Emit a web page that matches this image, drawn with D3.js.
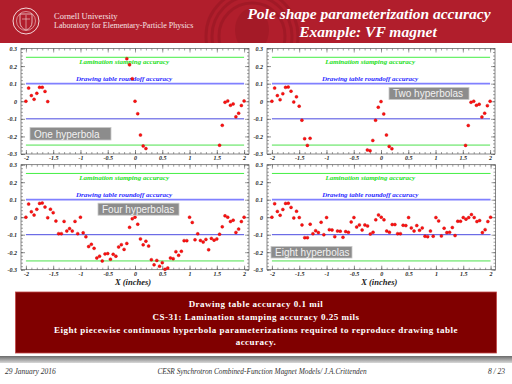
<!DOCTYPE html>
<html>
<head>
<meta charset="utf-8">
<script src="https://cdn.jsdelivr.net/npm/d3@7"></script>
<style>
body { margin: 0; background: #fff; }
svg { display: block; }
</style>
</head>
<body>
<svg id="slide" width="512" height="384"></svg>
<script>
// axis ticks
var xTicks = [-2, -1.5, -1, -0.5, 0, 0.5, 1, 1.5, 2];
var xTickLabels = ["-2", "-1.5", "-1", "-0.5", "0", "0.5", "1", "1.5", "2"];
var yTicks = [0.3, 0.2, 0.1, 0, -0.1, -0.2, -0.3];
var yTickLabels = ["0.3", "0.2", "0.1", "0", "-0.1", "-0.2", "-0.3"];

// accuracy limits (inches)
var laminationLimit = 0.25;
var drawingLimit = 0.1;

// residuals [x, dy]
var oneHyperbola = [
  [-2.0, 0.0], [-1.95, 0.075], [-1.9, 0.032], [-1.85, 0.011], [-1.8, 0.045],
  [-1.75, 0.079], [-1.7, 0.079], [-1.65, 0.056], [-1.6, -0.002],
  [-0.15, 0.242], [-0.1, 0.207], [-0.05, 0.128], [0.0, 0.0], [0.05, -0.071],
  [0.1, -0.192], [0.15, -0.254], [0.2, -0.269],
  [1.55, -0.25], [1.6, -0.137], [1.65, -0.006], [1.7, 0.002], [1.75, -0.023],
  [1.8, -0.015], [1.85, -0.088], [1.9, -0.068], [1.95, -0.024], [2.0, 0.002]
];

var twoHyperbolas = [
  [-2.0, 0.0], [-1.95, 0.075], [-1.9, 0.032], [-1.85, 0.009], [-1.8, 0.043],
  [-1.75, 0.079], [-1.7, 0.081], [-1.65, 0.057], [-1.6, -0.004], [-1.55, 0.025],
  [-1.5, -0.028], [-1.45, -0.108], [-1.4, -0.213], [-1.35, -0.251], [-1.3, -0.211],
  [-0.25, -0.277], [-0.2, -0.281], [-0.15, -0.223], [-0.1, -0.108], [-0.05, -0.034],
  [0.0, -0.002], [0.05, -0.072], [0.1, -0.192], [0.15, -0.257], [0.2, -0.27],
  [1.55, -0.251], [1.6, -0.138], [1.65, -0.006], [1.7, 0.0], [1.75, -0.023],
  [1.8, -0.017], [1.85, -0.089], [1.9, -0.068], [1.95, -0.025], [2.0, 0.0]
];

var fourHyperbolas = [
  [-2.0, 0.0], [-1.95, 0.075], [-1.9, 0.031], [-1.85, 0.012], [-1.8, 0.045],
  [-1.75, 0.079], [-1.7, 0.081], [-1.65, 0.058], [-1.6, -0.003], [-1.55, 0.046],
  [-1.5, 0.026], [-1.45, -0.022], [-1.4, -0.094], [-1.35, -0.094], [-1.3, -0.024],
  [-1.25, -0.079], [-1.2, -0.065], [-1.15, -0.079], [-1.1, -0.024], [-1.05, -0.094],
  [-1.0, 0.0], [-0.95, -0.089], [-0.9, -0.112], [-0.85, -0.168], [-0.8, -0.155],
  [-0.75, -0.178], [-0.7, -0.233], [-0.65, -0.223], [-0.6, -0.25], [-0.55, -0.21],
  [-0.5, -0.208], [-0.45, -0.24], [-0.4, -0.212], [-0.35, -0.223], [-0.3, -0.17],
  [-0.25, -0.157], [-0.2, -0.184], [-0.15, -0.15], [-0.1, -0.058], [-0.05, -0.009],
  [0.0, 0.0], [0.05, -0.04], [0.1, -0.124], [0.15, -0.158], [0.2, -0.137],
  [0.25, -0.165], [0.3, -0.243], [0.35, -0.272], [0.4, -0.247], [0.45, -0.28],
  [0.5, -0.26], [0.55, -0.298], [0.6, -0.29], [0.65, -0.233], [0.7, -0.237],
  [0.75, -0.197], [0.8, -0.218], [0.85, -0.195], [0.9, -0.134], [0.95, -0.134],
  [1.0, 0.0], [1.05, -0.03], [1.1, -0.129], [1.15, -0.095], [1.2, -0.133],
  [1.25, -0.142], [1.3, -0.127], [1.35, -0.186], [1.4, -0.121], [1.45, -0.131],
  [1.5, -0.124], [1.55, -0.097], [1.6, -0.055], [1.65, 0.008], [1.7, 0.0],
  [1.75, -0.025], [1.8, -0.017], [1.85, -0.087], [1.9, -0.068], [1.95, -0.025],
  [2.0, 0.0]
];

var eightHyperbolas = [
  [-2.0, 0.0], [-1.95, 0.077], [-1.9, 0.033], [-1.85, 0.011], [-1.8, 0.044],
  [-1.75, 0.079], [-1.7, 0.08], [-1.65, 0.056], [-1.6, -0.004], [-1.55, 0.034],
  [-1.5, -0.002], [-1.45, -0.044], [-1.4, -0.117], [-1.35, -0.117], [-1.3, -0.04],
  [-1.25, -0.094], [-1.2, -0.077], [-1.15, -0.088], [-1.1, -0.029], [-1.05, -0.1],
  [-1.0, -0.002], [-0.95, -0.071], [-0.9, -0.073], [-0.85, -0.111], [-0.8, -0.079],
  [-0.75, -0.08], [-0.7, -0.115], [-0.65, -0.082], [-0.6, -0.086], [-0.55, -0.027],
  [-0.5, -0.002], [-0.45, -0.056], [-0.4, -0.044], [-0.35, -0.073], [-0.3, -0.044],
  [-0.25, -0.05], [-0.2, -0.096], [-0.15, -0.086], [-0.1, -0.015], [-0.05, 0.013],
  [0.0, 0.0], [0.05, -0.015], [0.1, -0.079], [0.15, -0.086], [0.2, -0.042],
  [0.25, -0.042], [0.3, -0.094], [0.35, -0.094], [0.4, -0.046], [0.45, -0.048],
  [0.5, -0.002], [0.55, -0.061], [0.6, -0.079], [0.65, -0.048], [0.7, -0.075],
  [0.75, -0.061], [0.8, -0.109], [0.85, -0.111], [0.9, -0.079], [0.95, -0.109],
  [1.0, -0.002], [1.05, -0.021], [1.1, -0.107], [1.15, -0.063], [1.2, -0.088],
  [1.25, -0.086], [1.3, -0.059], [1.35, -0.105], [1.4, -0.023], [1.45, -0.023],
  [1.5, -0.002], [1.55, -0.011], [1.6, -0.002], [1.65, 0.015], [1.7, -0.002],
  [1.75, -0.025], [1.8, -0.019], [1.85, -0.088], [1.9, -0.071], [1.95, -0.025],
  [2.0, 0.0]
];

var panelNames = ["One hyperbola", "Two hyperbolas", "Four hyperbolas", "Eight hyperbolas"];
var panelData = [oneHyperbola, twoHyperbolas, fourHyperbolas, eightHyperbolas];

// where each panel sits on the slide
var panels = [
  {left: 21, right: 249, top: 48.5, bottom: 154, box: [30, 127.5, 81, 12.5], xTitle: false},
  {left: 267, right: 495, top: 48.5, bottom: 154, box: [389, 87.5, 80, 12], xTitle: false},
  {left: 21, right: 249, top: 164.7, bottom: 269.7, box: [98, 203.2, 81, 12], xTitle: true},
  {left: 267, right: 495.5, top: 164.7, bottom: 269.7, box: [271, 246.5, 81, 11.5], xTitle: true}
];

var svg = d3.select("#slide");
var serif = "'Liberation Serif', 'DejaVu Serif', serif";
var defs = svg.append("defs");

// ---- header ----
defs.append("clipPath").attr("id", "hdr").append("rect")
  .attr("x", 0).attr("y", 0).attr("width", 512).attr("height", 43);
svg.append("rect").attr("x", 0).attr("y", 0).attr("width", 512).attr("height", 43).attr("fill", "#b11e2c");
var seal = svg.append("g").attr("clip-path", "url(#hdr)").attr("opacity", 0.22);
[46, 40, 33].forEach(function(r) {
  seal.append("circle").attr("cx", 252).attr("cy", 36).attr("r", r)
    .attr("fill", "none").attr("stroke", "#6a0c15").attr("stroke-width", 3);
});
seal.append("ellipse").attr("cx", 252).attr("cy", 30).attr("rx", 17).attr("ry", 22).attr("fill", "#7a1019");

var logo = svg.append("g").attr("stroke", "#f3d6d8").attr("fill", "none");
logo.append("circle").attr("cx", 26).attr("cy", 21).attr("r", 13).attr("stroke-width", 1);
logo.append("circle").attr("cx", 26).attr("cy", 21).attr("r", 9.5).attr("stroke-width", 0.6);
logo.append("path").attr("d", "M20,14 L32,14 L32,22 Q32,28 26,30 Q20,28 20,22 Z").attr("stroke-width", 0.8);
logo.append("path").attr("d", "M22,19 L30,19 M26,15 L26,29").attr("stroke-width", 0.6);

svg.append("text").attr("x", 54).attr("y", 19).text("Cornell University")
  .attr("font-family", serif).attr("font-size", 8.5).attr("fill", "#f6e3e4");
svg.append("text").attr("x", 54).attr("y", 28).text("Laboratory for Elementary-Particle Physics")
  .attr("font-family", serif).attr("font-size", 8).attr("fill", "#f6e3e4");

svg.append("text").attr("x", 369).attr("y", 19).text("Pole shape parameterization accuracy")
  .attr("text-anchor", "middle").attr("font-family", serif).attr("font-size", 15.5)
  .attr("font-weight", "bold").attr("font-style", "italic").attr("fill", "#fff");
svg.append("text").attr("x", 368).attr("y", 37).text("Example: VF magnet")
  .attr("text-anchor", "middle").attr("font-family", serif).attr("font-size", 15.5)
  .attr("font-weight", "bold").attr("font-style", "italic").attr("fill", "#fff");

// ---- panels ----
function drawPanel(p, data, name) {
  var x = d3.scaleLinear().domain([-2.09, 2.09]).range([p.left, p.right]);
  var y = d3.scaleLinear().domain([-0.3, 0.3]).range([p.bottom, p.top]);
  var g = svg.append("g");

  var xMinor = d3.range(-20, 21).map(function(i) { return i / 10; });
  var yMinor = d3.range(-15, 16).map(function(i) { return i / 50; });

  function ticks(axis, transform, size, vals) {
    var a = g.append("g").attr("transform", transform)
      .call(axis.tickValues(vals).tickSize(size).tickFormat(""));
    a.select(".domain").remove();
    a.selectAll("line").attr("stroke", "#444").attr("stroke-width", 0.5);
    return a;
  }
  ticks(d3.axisBottom(x), "translate(0," + p.bottom + ")", -2, xMinor);
  ticks(d3.axisTop(x), "translate(0," + p.top + ")", -2, xMinor);
  ticks(d3.axisLeft(y), "translate(" + p.left + ",0)", -2, yMinor);
  ticks(d3.axisRight(y), "translate(" + p.right + ",0)", -2, yMinor);
  ticks(d3.axisTop(x), "translate(0," + p.top + ")", -4, xTicks);
  ticks(d3.axisRight(y), "translate(" + p.right + ",0)", -4, yTicks);

  var xa = g.append("g").attr("transform", "translate(0," + p.bottom + ")")
    .call(d3.axisBottom(x).tickValues(xTicks).tickSize(-4).tickPadding(2)
      .tickFormat(function(d, i) { return xTickLabels[i]; }));
  var ya = g.append("g").attr("transform", "translate(" + p.left + ",0)")
    .call(d3.axisLeft(y).tickValues(yTicks).tickSize(-4).tickPadding(4)
      .tickFormat(function(d, i) { return yTickLabels[i]; }));
  [xa, ya].forEach(function(a) {
    a.select(".domain").remove();
    a.selectAll("line").attr("stroke", "#444").attr("stroke-width", 0.6);
    a.selectAll("text").attr("font-family", serif).attr("font-size", 6)
      .attr("font-weight", "bold").attr("font-style", "italic").attr("fill", "#222");
  });

  g.append("rect").attr("x", p.left).attr("y", p.top)
    .attr("width", p.right - p.left).attr("height", p.bottom - p.top)
    .attr("fill", "none").attr("stroke", "#555").attr("stroke-width", 0.7);

  var refLines = [
    {v: laminationLimit, c: "#44ee44", w: 1},
    {v: drawingLimit, c: "#8080ff", w: 1.8},
    {v: -drawingLimit, c: "#4a4ae0", w: 1},
    {v: -laminationLimit, c: "#99ee99", w: 1.8}
  ];
  g.selectAll(".ref").data(refLines).enter().append("line")
    .attr("x1", x(-2)).attr("x2", x(2))
    .attr("y1", function(d) { return y(d.v); }).attr("y2", function(d) { return y(d.v); })
    .attr("stroke", function(d) { return d.c; }).attr("stroke-width", function(d) { return d.w; });

  var xc = x(-0.2);
  g.append("text").attr("x", xc).attr("y", y(laminationLimit) + 6.5)
    .text("Lamination stamping accuracy").attr("text-anchor", "middle")
    .attr("font-family", serif).attr("font-size", 7).attr("font-weight", "bold")
    .attr("font-style", "italic").attr("fill", "#22e022");
  g.append("text").attr("x", xc).attr("y", y(drawingLimit) - 2.5)
    .text("Drawing table roundoff accuracy").attr("text-anchor", "middle")
    .attr("font-family", serif).attr("font-size", 7).attr("font-weight", "bold")
    .attr("font-style", "italic").attr("fill", "#2a2aff");

  g.selectAll(".pt").data(data).enter().append("circle")
    .attr("cx", function(d) { return x(d[0]); })
    .attr("cy", function(d) { return y(d[1]); })
    .attr("r", 1.5).attr("fill", "#ff1010").attr("stroke", "#c00000").attr("stroke-width", 0.4);

  g.append("rect").attr("x", p.box[0]).attr("y", p.box[1])
    .attr("width", p.box[2]).attr("height", p.box[3])
    .attr("fill", "#8c8c8c").attr("stroke", "#c8c8c8").attr("stroke-width", 0.8);
  g.append("text").attr("x", p.box[0] + 4).attr("y", p.box[1] + p.box[3] - 2.5)
    .text(name).attr("font-family", "'Liberation Sans', Arial, sans-serif")
    .attr("font-size", 10).attr("fill", "#f2f2f2");

  if (p.xTitle) {
    g.append("text").attr("x", x(0) - 2).attr("y", p.bottom + 15.5)
      .text("X (inches)").attr("text-anchor", "middle")
      .attr("font-family", serif).attr("font-size", 8.5).attr("font-weight", "bold")
      .attr("font-style", "italic").attr("fill", "#222");
  }
}

panels.forEach(function(p, i) { drawPanel(p, panelData[i], panelNames[i]); });

// ---- summary box ----
var summary = [
  "Drawing table accuracy 0.1 mil",
  "CS-31: Lamination stamping accuracy 0.25 mils",
  "Eight piecewise continuous hyperbola parameterizations required to reproduce drawing table",
  "accuracy."
];
svg.append("rect").attr("x", 15.5).attr("y", 292).attr("width", 481).attr("height", 61)
  .attr("fill", "#800000").attr("stroke", "#c04848").attr("stroke-width", 0.8);
svg.selectAll(".sum").data(summary).enter().append("text")
  .attr("x", 256).attr("y", function(d, i) { return [307, 319.5, 333, 344.7][i]; })
  .text(function(d) { return d; }).attr("text-anchor", "middle")
  .attr("font-family", serif).attr("font-size", 9).attr("font-weight", "bold")
  .attr("letter-spacing", 0.5).attr("fill", "#fff");

// ---- footer ----
var grad = defs.append("linearGradient").attr("id", "bar")
  .attr("x1", 0).attr("y1", 0).attr("x2", 0).attr("y2", 1);
grad.append("stop").attr("offset", 0).attr("stop-color", "#6a6a6a");
grad.append("stop").attr("offset", 1).attr("stop-color", "#d8d8d8");
svg.append("rect").attr("x", 0).attr("y", 356).attr("width", 512).attr("height", 7).attr("fill", "url(#bar)");

svg.append("text").attr("x", 5).attr("y", 374).text("29 January 2016")
  .attr("font-family", serif).attr("font-size", 7.5).attr("font-style", "italic").attr("fill", "#333");
svg.append("text").attr("x", 262).attr("y", 374)
  .text("CESR Synchrotron Combined-Function Magnet Models/ J.A.Crittenden")
  .attr("text-anchor", "middle").attr("font-family", serif).attr("font-size", 7.3)
  .attr("font-style", "italic").attr("fill", "#333");
svg.append("text").attr("x", 505).attr("y", 374).text("8 / 23").attr("text-anchor", "end")
  .attr("font-family", serif).attr("font-size", 7.5).attr("font-style", "italic").attr("fill", "#333");
</script>
</body>
</html>
